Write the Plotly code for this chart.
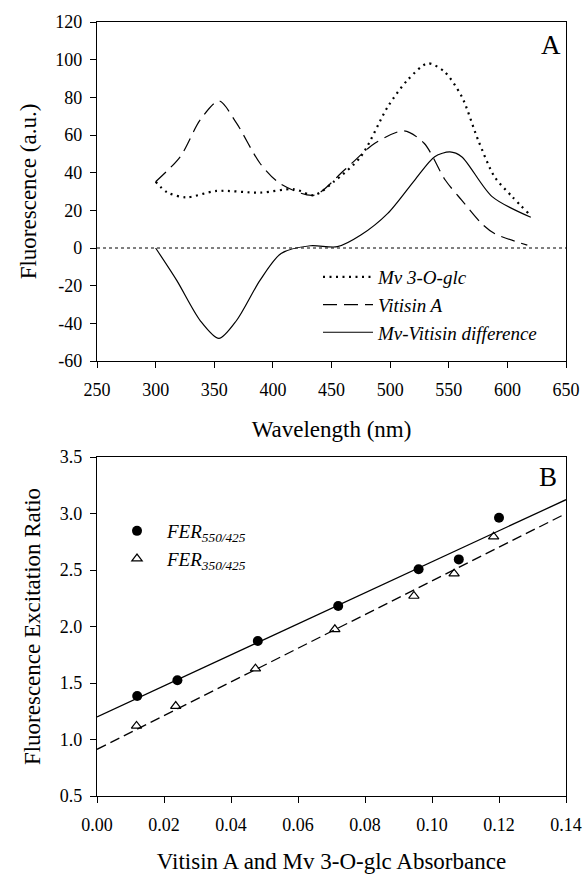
import plotly.graph_objects as go

# ---- Panel A data (fluorescence spectra) ----
wl_mv = [300, 310, 326, 352, 389, 418, 435, 452, 475, 498, 515, 532, 546, 561, 575, 589, 604, 618]
mv_glc = [35.2, 29.5, 26.9, 30.3, 29.4, 31.2, 28.0, 35.2, 48.5, 75.0, 89.3, 98.0, 93.8, 80.5, 57.4, 37.9, 27.3, 18.4]

wl_vit = [300, 321, 338, 354, 369, 389, 406, 435, 461, 487, 512, 529, 547, 561, 578, 589, 617]
vitisin_a = [35.2, 48.5, 68.0, 78.1, 66.3, 45.0, 34.3, 28.0, 41.4, 55.6, 62.2, 55.6, 36.1, 25.4, 13.0, 7.7, 1.5]

wl_diff = [300, 318, 338, 354, 369, 389, 407, 432, 455, 475, 498, 521, 538, 551, 561, 587, 620]
mv_vit_diff = [0.0, -17.2, -38.5, -48.0, -38.5, -17.2, -2.9, 1.2, 0.7, 6.9, 18.4, 36.1, 48.5, 51.0, 48.5, 27.3, 16.3]

wl_ticks = [250, 300, 350, 400, 450, 500, 550, 600, 650]
fl_ticks = [-60, -40, -20, 0, 20, 40, 60, 80, 100, 120]
fl_ticktext = ["-60", "-40", "-20", "0", "20", "40", "60", "80", "100", "120"]

# ---- Panel B data (fluorescence excitation ratios) ----
abs_550 = [0.012, 0.024, 0.048, 0.072, 0.096, 0.108, 0.120]
fer_550 = [1.385, 1.524, 1.872, 2.181, 2.506, 2.594, 2.963]
abs_350 = [0.0118, 0.0235, 0.0473, 0.071, 0.0946, 0.1066, 0.1184]
fer_350 = [1.12, 1.296, 1.627, 1.975, 2.27, 2.468, 2.795]

fit_x = [0.0, 0.14]
fit_550 = [1.20, 3.122]
fit_350 = [0.913, 3.0]

abs_ticks = [0, 0.02, 0.04, 0.06, 0.08, 0.10, 0.12, 0.14]
fer_ticks = [0.5, 1.0, 1.5, 2.0, 2.5, 3.0, 3.5]

FONT = "Liberation Serif"

fig = go.Figure()

fig.add_trace(go.Scatter(x=wl_mv, y=mv_glc, mode="lines",
                         line=dict(color="black", width=2.2, dash="2px,4.5px", shape="spline", smoothing=0.8),
                         name="<i>Mv 3-O-glc</i>", xaxis="x", yaxis="y", legend="legend"))
fig.add_trace(go.Scatter(x=wl_vit, y=vitisin_a, mode="lines",
                         line=dict(color="black", width=1.2, dash="14px,7px", shape="spline", smoothing=0.8),
                         name="<i>Vitisin A</i>", xaxis="x", yaxis="y", legend="legend"))
fig.add_trace(go.Scatter(x=wl_diff, y=mv_vit_diff, mode="lines",
                         line=dict(color="black", width=1.2, shape="spline", smoothing=0.8),
                         name="<i>Mv-Vitisin difference</i>", xaxis="x", yaxis="y", legend="legend"))

fig.add_trace(go.Scatter(x=abs_550, y=fer_550, mode="markers", marker=dict(symbol="circle", size=10, color="black"),
                         name="<i>FER<sub>550/425</sub></i>", xaxis="x2", yaxis="y2", legend="legend2"))
fig.add_trace(go.Scatter(x=abs_350, y=fer_350, mode="markers",
                         marker=dict(symbol="triangle-up-open", size=9, color="black", line=dict(width=1.2)),
                         name="<i>FER<sub>350/425</sub></i>", xaxis="x2", yaxis="y2", legend="legend2"))
fig.add_trace(go.Scatter(x=fit_x, y=fit_550, mode="lines", line=dict(color="black", width=1.3),
                         showlegend=False, xaxis="x2", yaxis="y2"))
fig.add_trace(go.Scatter(x=fit_x, y=fit_350, mode="lines", line=dict(color="black", width=1.3, dash="10px,5px"),
                         showlegend=False, xaxis="x2", yaxis="y2"))

axis_common = dict(showline=True, linecolor="black", linewidth=1.2, mirror=True, ticks="outside",
                   ticklen=6, tickwidth=1.2, tickcolor="black", showgrid=False, zeroline=False,
                   automargin=False,
                   tickfont=dict(family=FONT, size=18, color="black"))
title_font = dict(family=FONT, size=23, color="black")

W, H = 588, 874
L, R = 97, 22
top_px, mid1_px, mid2_px, bot_px = 22, 361, 457, 796
plot_h = bot_px - top_px
plot_w = W - L - R


def px(xp):
    return (xp - L) / plot_w


def py(yp):
    return (bot_px - yp) / plot_h


fig.update_layout(
    width=W, height=H,
    paper_bgcolor="white", plot_bgcolor="white",
    margin=dict(l=L, r=R, t=top_px, b=H - bot_px),
    font=dict(family=FONT, color="black"),
    xaxis=dict(domain=[0, 1], anchor="y", range=[250, 650], tickvals=wl_ticks, ticklabelstandoff=6,
               title=dict(text="Wavelength (nm)", standoff=22, font=title_font), **axis_common),
    yaxis=dict(domain=[py(mid1_px), 1], anchor="x", range=[-60, 120],
               tickvals=fl_ticks, ticktext=fl_ticktext, ticklabelstandoff=4,
               title=dict(text="Fluorescence (a.u.)", standoff=12, font=title_font), **axis_common),
    xaxis2=dict(domain=[0, 1], anchor="y2", range=[0, 0.14], tickvals=abs_ticks, ticklabelstandoff=6,
                tickformat=".2f", title=dict(text="Vitisin A and Mv 3-O-glc Absorbance", standoff=22, font=title_font),
                **axis_common),
    yaxis2=dict(domain=[0, py(mid2_px)], anchor="x2", range=[0.5, 3.5], tickvals=fer_ticks,
                tickformat=".1f", ticklabelstandoff=4,
                title=dict(text="Fluorescence Excitation Ratio", standoff=12, font=title_font), **axis_common),
    legend=dict(x=px(318), y=py(258), xanchor="left", yanchor="top", bgcolor="rgba(0,0,0,0)",
                font=dict(family=FONT, size=19, color="black"), itemwidth=50, tracegroupgap=0),
    legend2=dict(x=px(107), y=py(512), xanchor="left", yanchor="top", bgcolor="rgba(0,0,0,0)",
                 font=dict(family=FONT, size=19, color="black"), itemwidth=50),
    showlegend=True,
)

fig.add_shape(type="line", xref="x domain", yref="y", x0=0, x1=1, y0=0, y1=0,
              line=dict(color="black", width=1, dash="dot"))

fig.add_annotation(text="A", xref="paper", yref="paper", x=px(563), y=py(28), xanchor="right", yanchor="top",
                   showarrow=False, font=dict(family=FONT, size=27, color="black"))
fig.add_annotation(text="B", xref="paper", yref="paper", x=px(559), y=py(460), xanchor="right", yanchor="top",
                   showarrow=False, font=dict(family=FONT, size=27, color="black"))

fig.write_html("out.html", config={"displayModeBar": False},
               post_script="document.body.style.margin='0';document.body.style.overflow='hidden';")
